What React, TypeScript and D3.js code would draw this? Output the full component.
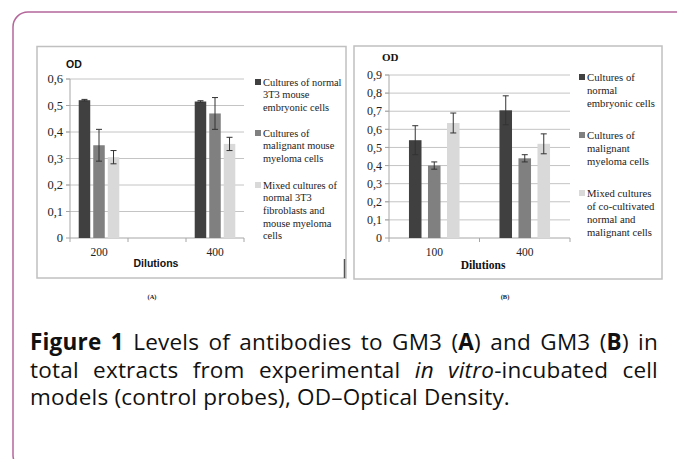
import React, { useEffect, useRef } from "react";
import * as d3 from "d3";

// ---------- data ----------
const categoriesA = ["200", " ", "400"];
const seriesLabelsA = [
  ["Cultures of normal", "3T3 mouse", "embryonic cells"],
  ["Cultures of", "malignant mouse", "myeloma cells"],
  ["Mixed cultures of", "normal 3T3", "fibroblasts and", "mouse myeloma", "cells"],
];
const normalA = [0.52, null, 0.515];
const malignantA = [0.35, null, 0.47];
const mixedA = [0.305, null, 0.355];
const normalErrA = [0.003, null, 0.003];
const malignantErrA = [0.06, null, 0.06];
const mixedErrA = [0.025, null, 0.025];
const yTicksA = [0, 0.1, 0.2, 0.3, 0.4, 0.5, 0.6];

const categoriesB = ["100", "400"];
const seriesLabelsB = [
  ["Cultures of", "normal", "embryonic cells"],
  ["Cultures of", "malignant", "myeloma cells"],
  ["Mixed cultures", "of co-cultivated", "normal and", "malignant cells"],
];
const normalB = [0.54, 0.705];
const malignantB = [0.4, 0.44];
const mixedB = [0.635, 0.52];
const normalErrB = [0.08, 0.08];
const malignantErrB = [0.02, 0.02];
const mixedErrB = [0.055, 0.055];
const yTicksB = [0, 0.1, 0.2, 0.3, 0.4, 0.5, 0.6, 0.7, 0.8, 0.9];

const seriesColors = ["#404040", "#808080", "#d9d9d9"];

const captionLines = [
  [
    { t: "Figure 1", b: true },
    { t: " Levels of antibodies to GM3 (" },
    { t: "A", b: true },
    { t: ") and GM3 (" },
    { t: "B", b: true },
    { t: ") in" },
  ],
  [
    { t: "total extracts from experimental " },
    { t: "in vitro", i: true },
    { t: "-incubated cell" },
  ],
  [{ t: "models (control probes), OD\u2013Optical Density." }],
];

const fmt = (v: number) => (v === 0 ? "0" : d3.format(".1f")(v).replace(".", ","));

const SERIF = "Liberation Serif, Times New Roman, Times, serif";
const SANS = "Liberation Sans, Arial, sans-serif";

type PanelProps = {
  cats: string[];
  series: (number | null)[][];
  errs: (number | null)[][];
  ticks: number[];
  yMax: number;
  x0: number; x1: number; yTop: number; yBottom: number;
  pIn: number; pOut: number;
  labels: string[][];
  legendX: number; legendStarts: number[]; legendStep: number;
  tickFont: number; xFont: number; legendFont: number;
  odSerif: boolean; odX: number; odY: number; odFont: number;
  dilX: number; dilY: number; dilFont: number;
  panelTag: string; tagX: number;
};

function Panel(p: PanelProps) {
  const x = d3.scaleBand<string>().domain(p.cats).range([p.x0, p.x1]).paddingInner(0).paddingOuter(0);
  const inner = d3
    .scaleBand<number>()
    .domain([0, 1, 2])
    .range([0, x.bandwidth()])
    .paddingInner(p.pIn)
    .paddingOuter(p.pOut);
  const y = d3.scaleLinear().domain([0, p.yMax]).range([p.yBottom, p.yTop]);
  const boundaries = [p.x0, ...p.cats.map((c) => (x(c) as number) + x.bandwidth())];
  return (
    <g>
      {p.ticks.map((t) => (
        <g key={t}>
          <line x1={p.x0 - 4} x2={t === 0 ? p.x0 : p.x1} y1={y(t)} y2={y(t)} stroke={t === 0 ? "#a6a6a6" : "#c4c4c4"} strokeWidth={1} />
          {t !== 0 && <line x1={p.x0 - 4} x2={p.x0} y1={y(t)} y2={y(t)} stroke="#a6a6a6" strokeWidth={1} />}
          <text x={p.x0 - 7} y={y(t)} dy="0.35em" textAnchor="end" style={{ fontFamily: SERIF }} fontSize={p.tickFont} fill="#222">
            {fmt(t)}
          </text>
        </g>
      ))}
      <line x1={p.x0} x2={p.x0} y1={p.yTop} y2={p.yBottom} stroke="#a6a6a6" strokeWidth={1} />
      <line x1={p.x0} x2={p.x1} y1={p.yBottom} y2={p.yBottom} stroke="#a6a6a6" strokeWidth={1} />
      {boundaries.map((b, i) => (
        <line key={i} x1={b} x2={b} y1={p.yBottom} y2={p.yBottom + 4} stroke="#a6a6a6" strokeWidth={1} />
      ))}
      {p.cats.map((c, ci) =>
        p.series.map((s, si) => {
          const v = s[ci];
          if (v === null || v === undefined) return null;
          const bx = (x(c) as number) + (inner(si) as number);
          const bw = inner.bandwidth();
          const e = p.errs[si][ci] as number;
          const cx = bx + bw / 2;
          return (
            <g key={c + si}>
              <rect x={bx} y={y(v)} width={bw} height={p.yBottom - y(v)} fill={seriesColors[si]} />
              <line x1={cx} x2={cx} y1={y(v + e)} y2={y(v - e)} stroke="#333" strokeWidth={1} />
              <line x1={cx - 3} x2={cx + 3} y1={y(v + e)} y2={y(v + e)} stroke="#333" strokeWidth={1} />
              <line x1={cx - 3} x2={cx + 3} y1={y(v - e)} y2={y(v - e)} stroke="#333" strokeWidth={1} />
            </g>
          );
        })
      )}
      {p.cats.map((c) =>
        c.trim() ? (
          <text key={c} x={(x(c) as number) + x.bandwidth() / 2} y={p.yBottom + 14} dy="0.35em" textAnchor="middle" style={{ fontFamily: SERIF }} fontSize={p.xFont} fill="#222">
            {c}
          </text>
        ) : null
      )}
      <text x={p.odX} y={p.odY} dy="0.35em" style={{ fontFamily: p.odSerif ? SERIF : SANS }} fontWeight="bold" fontSize={p.odFont} fill="#111">
        OD
      </text>
      <text x={p.dilX} y={p.dilY} dy="0.35em" textAnchor="middle" style={{ fontFamily: p.odSerif ? SERIF : SANS }} fontWeight="bold" fontSize={p.dilFont} fill="#111">
        Dilutions
      </text>
      {p.labels.map((lines, si) => (
        <g key={si}>
          <rect x={p.legendX - 8} y={p.legendStarts[si] - 3} width={6} height={6} fill={seriesColors[si]} />
          {lines.map((ln, li) => (
            <text key={li} x={p.legendX} y={p.legendStarts[si] + li * p.legendStep} dy="0.35em" style={{ fontFamily: SERIF }} fontSize={p.legendFont} fill="#222">
              {ln}
            </text>
          ))}
        </g>
      ))}
      <text x={p.tagX} y={297} dy="0.35em" textAnchor="middle" style={{ fontFamily: SERIF }} fontWeight="bold" fontSize={6.5} fill="#222">
        {p.panelTag}
      </text>
    </g>
  );
}

export default function App() {
  const capRef = useRef<SVGGElement>(null);
  const capX0 = 30;
  const capX1 = 658;
  const capY = [342, 370, 397];

  useEffect(() => {
    const g = capRef.current;
    if (!g) return;
    const texts = Array.from(g.querySelectorAll("text")) as SVGTextElement[];
    texts.forEach((t, i) => {
      if (i >= captionLines.length - 1) return;
      t.setAttribute("word-spacing", "0");
      const w = t.getComputedTextLength();
      const str = t.textContent || "";
      const spaces = (str.match(/ /g) || []).length;
      if (spaces > 0) t.setAttribute("word-spacing", String((capX1 - capX0 - w) / spaces));
    });
  }, []);

  return (
    <svg width={677} height={459} style={{ position: "absolute", left: 0, top: 0, background: "#fff" }}>
      <rect x={13} y={12} width={700} height={458} rx={15} fill="none" stroke="#b5679b" strokeWidth={1.5} />
      <rect x={37} y={46.5} width={309} height={231.5} fill="#fff" stroke="#c0c0c0" strokeWidth={1.5} />
      <line x1={344.5} x2={344.5} y1={259} y2={278} stroke="#555" strokeWidth={1.5} />
      <rect x={354} y={46} width={308} height={233} fill="#fff" stroke="#c0c0c0" strokeWidth={1.5} />
      <Panel
        cats={categoriesA}
        series={[normalA, malignantA, mixedA]}
        errs={[normalErrA, malignantErrA, mixedErrA]}
        ticks={yTicksA}
        yMax={0.6}
        x0={70} x1={244} yTop={79} yBottom={238}
        pIn={0.207} pOut={0.6}
        labels={seriesLabelsA}
        legendX={263} legendStarts={[82, 133, 185]} legendStep={12.7}
        tickFont={12.5} xFont={11.5} legendFont={10.4}
        odSerif={false} odX={66} odY={64} odFont={10.5}
        dilX={156} dilY={263} dilFont={10.5}
        panelTag="(A)" tagX={152}
      />
      <Panel
        cats={categoriesB}
        series={[normalB, malignantB, mixedB]}
        errs={[normalErrB, malignantErrB, mixedErrB]}
        ticks={yTicksB}
        yMax={0.9}
        x0={389} x1={570} yTop={75} yBottom={238}
        pIn={0.34} pOut={1.05}
        labels={seriesLabelsB}
        legendX={587} legendStarts={[77, 135, 193]} legendStep={13}
        tickFont={12} xFont={11.5} legendFont={10.7}
        odSerif={true} odX={382} odY={57} odFont={11}
        dilX={483} dilY={265} dilFont={11.5}
        panelTag="(B)" tagX={505}
      />
      <g ref={capRef}>
        {captionLines.map((line, li) => (
          <text key={li} x={capX0} y={capY[li]} dy="0.35em" style={{ fontFamily: "Open Sans, sans-serif", letterSpacing: "0.2px" }} fontSize={22.5} fill="#111">
            {line.map((s: any, si) => (
              <tspan key={si} fontWeight={s.b ? "bold" : undefined} fontStyle={s.i ? "italic" : undefined}>
                {s.t}
              </tspan>
            ))}
          </text>
        ))}
      </g>
    </svg>
  );
}
